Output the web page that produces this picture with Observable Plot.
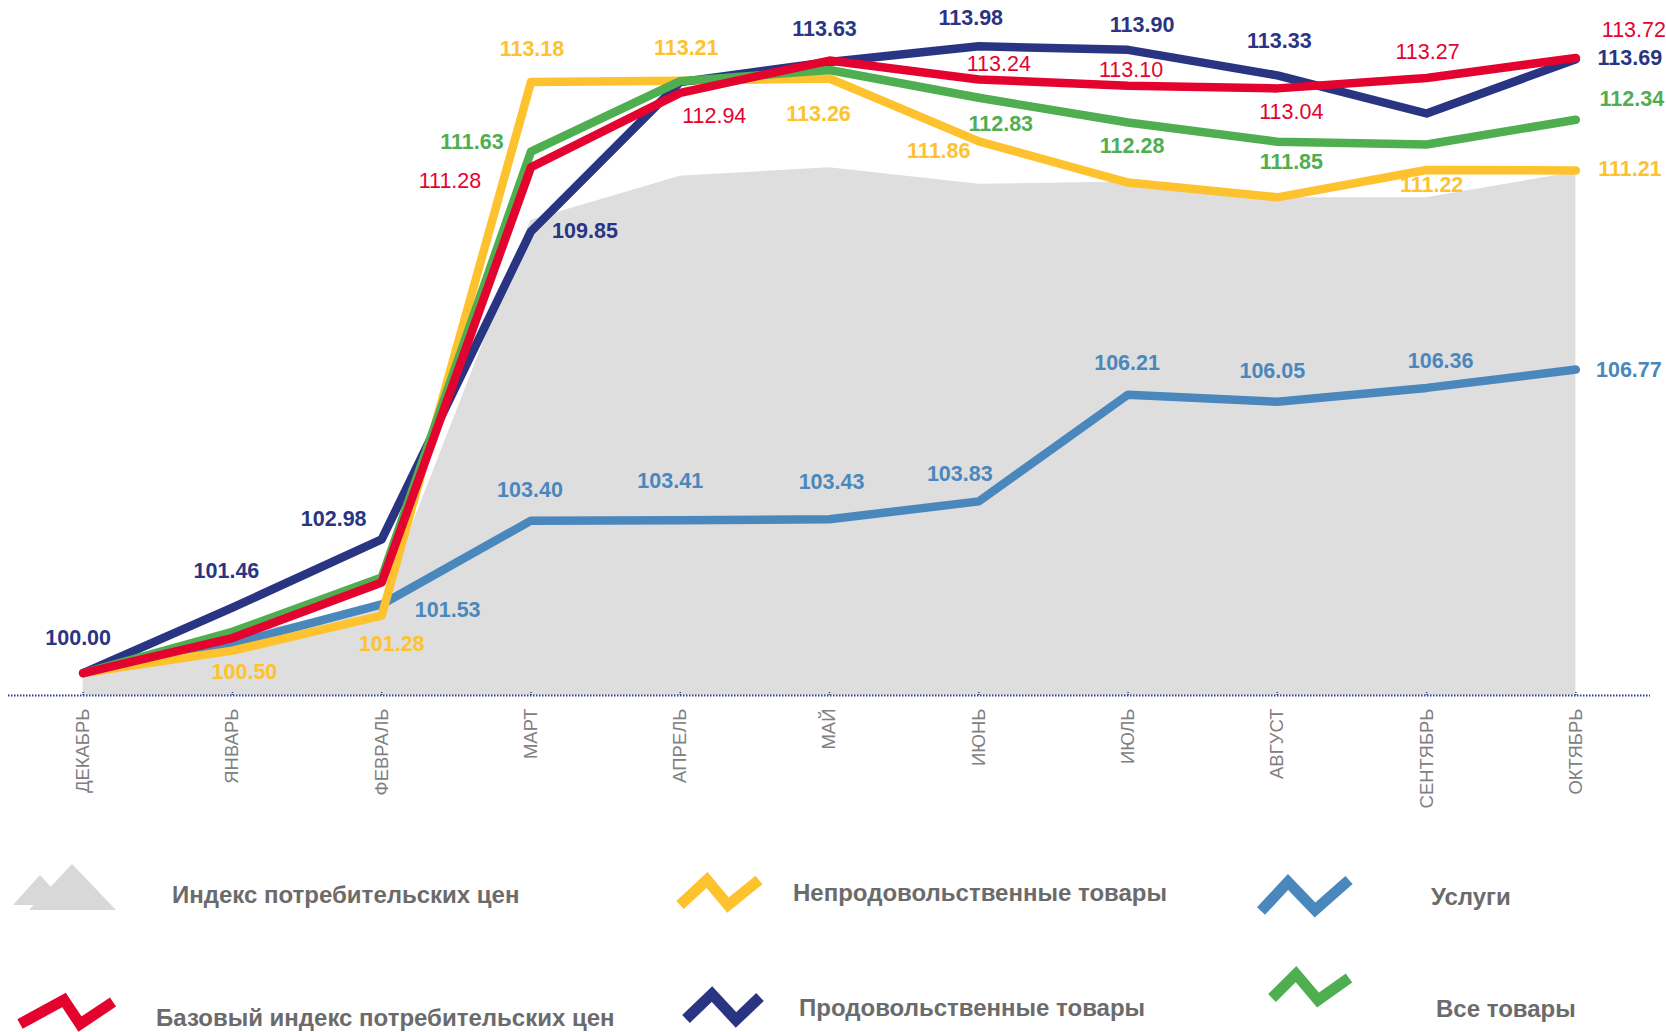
<!DOCTYPE html>
<html><head><meta charset="utf-8">
<script src="https://cdn.jsdelivr.net/npm/d3@7"></script>
<script src="https://cdn.jsdelivr.net/npm/@observablehq/plot@0.6"></script>
<style>
body{margin:0;background:#fff;font-family:Arial,"Liberation Sans",sans-serif;}
#chart,#legend{width:1666px;}
#legend svg{display:block;}
</style></head><body><div id="chart"></div><div id="legend"></div>
<script>
// ---- data ----
const months = ["ДЕКАБРЬ","ЯНВАРЬ","ФЕВРАЛЬ","МАРТ","АПРЕЛЬ","МАЙ","ИЮНЬ","ИЮЛЬ","АВГУСТ","СЕНТЯБРЬ","ОКТЯБРЬ"];
const cpi      = [100.00,100.80,101.55,110.10,111.08,111.27,110.90,110.95,110.60,110.60,111.17];
const coreCpi  = [100.00,100.78,102.02,111.28,112.94,113.66,113.24,113.10,113.04,113.27,113.72];
const nonFood  = [100.00,100.50,101.28,113.18,113.21,113.26,111.86,110.94,110.61,111.22,111.21];
const food     = [100.00,101.46,102.98,109.85,113.18,113.63,113.98,113.90,113.33,112.48,113.69];
const services = [100.00,100.65,101.53,103.40,103.41,103.43,103.83,106.21,106.05,106.36,106.77];
const allGoods = [100.00,100.92,102.13,111.63,113.20,113.45,112.83,112.28,111.85,111.79,112.34];
const legendNames = ["Индекс потребительских цен","Базовый индекс потребительских цен","Непродовольственные товары","Продовольственные товары","Услуги","Все товары"];

// ---- label placement (pixel offsets from the point; null = no label) ----
const foodLabelOff     = [[-5,-35],[-6,-37],[-48,-20],[54,0],null,[-5,-33],[-8,-28],[14,-25],[2,-34],null,[54,-1]];
const coreLabelOff     = [null,null,null,[-81,14],[34,23],null,[20,-15],[3,-16],[14,24],[1,-26],[58,-28]];
const nonFoodLabelOff  = [null,[12,21],[10,28],[1,-33],[6,-33],[-11,36],[-40,10],null,null,[5,15],[54,-1]];
const allLabelOff      = [null,null,null,[-59,-9],null,null,[22,26],[4,24],[14,20],null,[56,-21]];
const servLabelOff     = [null,null,[66,6],[-1,-31],[-10,-39],[2,-37],[-19,-27],[-1,-32],[-5,-31],[14,-27],[53,1]];

const C = {gray:"#dedede", red:"#e4032e", yellow:"#fec22f", navy:"#293583", blue:"#4a87bd", green:"#4fae50", text:"#6b6b6b", axis:"#2e3a8c"};

const idx = months.map((_, i) => i);
const series = [
  {values: services, color: C.blue,   off: servLabelOff,    weight: "bold"},
  {values: nonFood,  color: C.yellow, off: nonFoodLabelOff, weight: "bold"},
  {values: food,     color: C.navy,   off: foodLabelOff,    weight: "bold"},
  {values: allGoods, color: C.green,  off: allLabelOff,     weight: "bold"},
  {values: coreCpi,  color: C.red,    off: coreLabelOff,    weight: "normal"}
];
const base = 99.5;

const marks = [
  Plot.areaY(idx, {x: i => i, y1: base, y2: i => cpi[i], fill: C.gray}),
  Plot.ruleY([base], {stroke: C.axis, strokeWidth: 2, strokeDasharray: "1.5 1.5"}),
  Plot.ruleX(idx, {x: i => i, y1: base, y2: base + 0.08, stroke: C.axis, strokeWidth: 1.5, strokeDasharray: "1 1"}),
  Plot.text(idx, {x: i => i, y: base, text: i => months[i], rotate: -90, textAnchor: "end", dy: 13, fontSize: 18.5, fill: "#808080"})
];
for (const s of series) {
  marks.push(Plot.line(idx, {x: i => i, y: i => s.values[i], stroke: s.color, strokeWidth: 8.5, strokeLinejoin: "round", strokeLinecap: "round"}));
}
for (const s of series) {
  s.off.forEach((o, i) => {
    if (!o) return;
    marks.push(Plot.text([i], {x: d => d, y: d => s.values[d], text: d => s.values[d].toFixed(2), dx: o[0], dy: o[1], fill: s.color, fontSize: 21.5, fontWeight: s.weight, textAnchor: "middle"}));
  });
}

const chart = Plot.plot({
  width: 1666, height: 820,
  marginTop: 0, marginBottom: 125, marginLeft: 8, marginRight: 16,
  x: {type: "linear", domain: [-0.5, 10.5], axis: null},
  y: {domain: [base, 115], axis: null},
  style: {fontFamily: "Arial, 'Liberation Sans', sans-serif", overflow: "visible", background: "#fff"},
  marks
});
document.getElementById("chart").appendChild(chart);

// ---- legend (below the chart) ----
const top0 = 820;
const lg = d3.select("#legend").append("svg").attr("width", 1666).attr("height", 212);
const g = lg.append("g").attr("transform", `translate(0,${-top0})`);
// CPI mountains icon
g.append("polygon").attr("points", "13,905 40,875 67,905").attr("fill", "#d8d8d8");
g.append("polygon").attr("points", "29,910 72,864 116,910").attr("fill", "#d8d8d8");
const zig = [
  {pts: "20,1024 64,1000 80,1024 113,1002", color: C.red},
  {pts: "680,905 707,880 728,905 759,880", color: C.yellow},
  {pts: "686,1019 712,994 736,1020 760,997", color: C.navy},
  {pts: "1261,911 1288,882 1315,910 1349,880", color: C.blue},
  {pts: "1272,998 1296,974 1318,1000 1349,978", color: C.green}
];
zig.forEach(z => g.append("polyline").attr("points", z.pts).attr("fill", "none").attr("stroke", z.color).attr("stroke-width", 11).attr("stroke-linejoin", "miter"));
const lt = [
  {x: 172, y: 895}, {x: 156, y: 1018}, {x: 793, y: 893},
  {x: 799, y: 1008}, {x: 1431, y: 897}, {x: 1436, y: 1009}
];
lt.forEach((p, i) => g.append("text").attr("x", p.x).attr("y", p.y).attr("dy", "0.35em")
  .attr("font-size", 24).attr("font-weight", "bold").attr("fill", C.text)
  .attr("font-family", "Arial, 'Liberation Sans', sans-serif").text(legendNames[i]));
</script></body></html>
